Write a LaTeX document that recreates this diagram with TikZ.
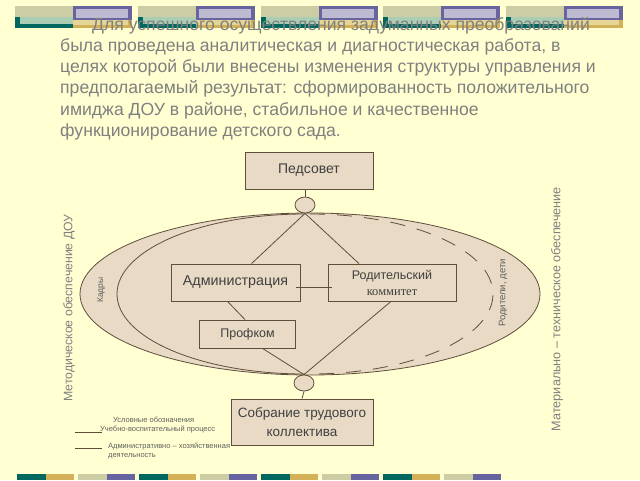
\documentclass[tikz,border=0pt]{standalone}
\usepackage{fontspec}
\setmainfont{Liberation Sans}
\newfontfamily\serifcyr{Liberation Serif}
\usetikzlibrary{shapes.geometric}
\definecolor{bgc}{RGB}{255,255,210}
\definecolor{khaki}{RGB}{205,205,165}
\definecolor{purp}{RGB}{104,100,160}
\definecolor{lav}{RGB}{190,186,210}
\definecolor{teal}{RGB}{0,104,94}
\definecolor{mint}{RGB}{170,205,180}
\definecolor{gold}{RGB}{212,176,88}
\definecolor{pgold}{RGB}{230,214,150}
\definecolor{tan}{RGB}{232,218,196}
\definecolor{brn}{RGB}{95,78,60}
\definecolor{gtext}{RGB}{128,128,128}
\definecolor{ltext}{RGB}{95,95,95}
\begin{document}
\begin{tikzpicture}[x=1pt,y=-1pt,
  box/.style={draw=brn,line width=0.8pt,fill=tan,inner sep=0pt,align=center,text=black!75},
  knot/.style={ellipse,draw=brn,line width=0.8pt,fill=tan,minimum width=20pt,minimum height=16pt,inner sep=0pt},
  conn/.style={draw=brn,line width=0.8pt},
  side/.style={rotate=90,text=gtext,inner sep=0pt},
  legend/.style={text=ltext,inner sep=0pt,font=\fontsize{7.5}{9}\selectfont,align=left}]
\fill[bgc] (0,0) rectangle (640,480);
\useasboundingbox (0,0) rectangle (640,480);
% top bars
\foreach \x in {15,138,261,383,506}{
  \fill[khaki] (\x,6) rectangle (\x+58,18);
  \fill[purp] (\x+58,6) rectangle (\x+117,20);
  \fill[lav] (\x+61,9) rectangle (\x+113,18);
  \fill[teal] (\x,17) rectangle (\x+58,28);
  \fill[mint] (\x+5,17) rectangle (\x+58,24);
  \fill[gold] (\x+58,20) rectangle (\x+117,28);
  \fill[pgold] (\x+58,20) rectangle (\x+113,25);
}
% bottom bars
\foreach \i in {0,...,7}{
  \pgfmathsetmacro{\xx}{17+61*\i}
  \ifodd\i
    \fill[khaki] (\xx,474) rectangle (\xx+29,480);
    \fill[purp] (\xx+29,474) rectangle (\xx+57,480);
  \else
    \fill[teal] (\xx,474) rectangle (\xx+29,480);
    \fill[gold] (\xx+29,474) rectangle (\xx+57,480);
  \fi
}
% paragraph
\node[anchor=north west,inner sep=0pt,align=left,text=gtext,font=\fontsize{17.6}{21.2}\selectfont] (para) at (60,17)
 {\hspace*{32pt}Для успешного осуществления задуманных преобразований\\
 была проведена аналитическая и диагностическая работа, в\\
 целях которой были внесены изменения структуры управления и\\
 предполагаемый результат: сформированность положительного\\
 имиджа ДОУ в районе, стабильное и качественное\\
 функционирование детского сада.};
% ellipses
\filldraw[fill=tan,draw=brn,line width=0.8pt] (310,294) ellipse [x radius=230,y radius=81];
\draw[brn,line width=0.8pt] (305,214) arc[start angle=-90,end angle=-270,x radius=188,y radius=80];
\draw[brn,line width=0.8pt,dash pattern=on 15pt off 12pt] (310,214) arc[start angle=-90,end angle=90,x radius=183,y radius=80];
% nodes
\node[box,minimum width=128pt,minimum height=37pt,font=\fontsize{14}{16}\selectfont] (ped) at (309,170.5) {Педсовет};
\node[knot] (c1) at (305,205) {};
\node[box,minimum width=129pt,minimum height=37pt,font=\fontsize{14.3}{17}\selectfont] (adm) at (235.5,282.5) {Администрация};
\node[box,minimum width=128pt,minimum height=37pt,font=\fontsize{12.5}{18}\selectfont] (rod) at (392,282.5) {Родительский\\[-2pt]{\serifcyr коммитет}};
\node[box,minimum width=96pt,minimum height=28pt,font=\fontsize{12.5}{15}\selectfont] (prof) at (247.5,334) {Профком};
\node[knot] (c2) at (304,383) {};
\node[box,minimum width=142pt,minimum height=46pt,font=\fontsize{13.5}{19}\selectfont] (sob) at (302,422) {Собрание трудового\\коллектива};
% connectors
\draw[conn] (ped.south -| c1.north) -- (c1.north);
\draw[conn] (c1.south) -- ([xshift=16pt]adm.north);
\draw[conn] (c1.south) -- ([xshift=-33pt]rod.north);
\draw[conn] ([xshift=-4pt,yshift=-5pt]adm.east) -- ([xshift=4pt,yshift=-5pt]rod.west);
\draw[conn] ([xshift=-8pt]adm.south) -- ([xshift=-2.5pt]prof.north);
\draw[conn] ([xshift=15pt]prof.south) -- (c2.north);
\draw[conn] ([xshift=-1pt]rod.south) -- (c2.north);
\draw[conn] (c2.south) -- (sob.north);
% side labels
\node[side,font=\fontsize{12.3}{14}\selectfont] (met) at (69,308) {Методическое обеспечение ДОУ};
\node[side,font=\fontsize{8.5}{10}\selectfont,text=ltext] (kad) at (101,290) {Кадры};
\node[side,font=\fontsize{9.5}{11}\selectfont,text=ltext] (rd) at (503,293) {Родители, дети};
\node[side,font=\fontsize{12.6}{14}\selectfont] (mat) at (557,309) {Материально -- техническое обеспечение};
% legend
\node[legend,anchor=west] (leg0) at (113,420) {Условные обозначения};
\coordinate (l1a) at (75,432); \coordinate (l1b) at (102,432);
\draw[brn,line width=0.6pt] (l1a) -- (l1b);
\node[legend,anchor=west] (leg1) at (100,429) {Учебно-воспитательный процесс};
\coordinate (l2a) at (75,448); \coordinate (l2b) at (102,448);
\draw[brn,line width=0.6pt] (l2a) -- (l2b);
\node[legend,anchor=north west] (leg2) at (108,443) {Административно -- хозяйственная\\деятельность};
\end{tikzpicture}
\end{document}
